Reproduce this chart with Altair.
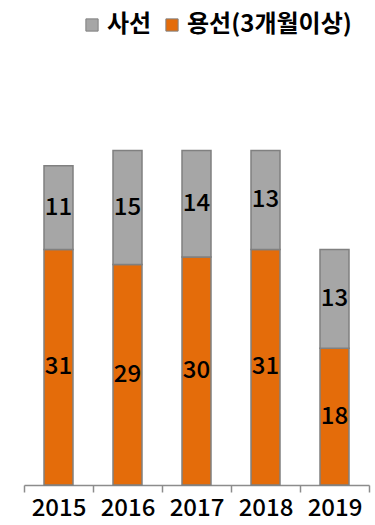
import altair as alt
import pandas as pd

years = ["2015", "2016", "2017", "2018", "2019"]
owned = [11, 15, 14, 13, 13]          # 사선
chartered = [31, 29, 30, 31, 18]      # 용선(3개월이상)

series = ["사선", "용선(3개월이상)"]
colors = ["#A6A6A6", "#E46C0A"]

rows = []
for y, o, c in zip(years, owned, chartered):
    rows.append({"year": y, "type": series[1], "value": c, "order": 0})
    rows.append({"year": y, "type": series[0], "value": o, "order": 1})
df = pd.DataFrame(rows)

FONT = "Noto Sans CJK KR"
y_scale = alt.Scale(domain=[0, 50])

base = alt.Chart(df).encode(
    x=alt.X(
        "year:N",
        title=None,
        scale=alt.Scale(paddingInner=0, paddingOuter=0),
        axis=alt.Axis(
            grid=False,
            labelAngle=0,
            labelFontSize=24,
            labelColor="#000000",
            labelFont=FONT,
            labelFontWeight=500,
            labelPadding=4,
            tickBand="extent",
            tickSize=7,
            tickColor="#8C8C8C",
            domainColor="#8C8C8C",
            domainWidth=1.5,
            tickWidth=1.5,
        ),
    ),
)

bars = base.mark_bar(size=29, stroke="#808080", strokeWidth=1.5).encode(
    y=alt.Y("value:Q", stack="zero", axis=None, scale=y_scale),
    color=alt.Color(
        "type:N",
        scale=alt.Scale(domain=series, range=colors),
        legend=alt.Legend(
            title=None,
            orient="none",
            direction="horizontal",
            legendX=56,
            legendY=-92,
            symbolType="square",
            symbolSize=150,
            symbolStrokeColor="#808080",
            symbolStrokeWidth=1,
            labelFontSize=24,
            labelFontWeight="bold",
            labelFont=FONT,
            labelColor="#000000",
            labelLimit=400,
            columnPadding=8,
            labelOffset=3,
        ),
    ),
    order=alt.Order("order:Q"),
)

labels = base.mark_text(fontSize=24, font=FONT, fontWeight=500, color="#000000").encode(
    y=alt.Y("mid:Q", scale=y_scale, axis=None),
    text=alt.Text("value:Q"),
).transform_stack(
    stack="value", groupby=["year"], as_=["v0", "v1"], sort=[alt.SortField("order")]
).transform_calculate(mid="(datum.v0 + datum.v1) / 2")

chart = (
    alt.layer(bars, labels)
    .properties(
        width=345,
        height=380,
        padding={"left": 24, "top": 105, "right": 6, "bottom": 40},
        autosize=alt.AutoSizeParams(type="none"),
        view=alt.ViewBackground(stroke=None, strokeWidth=0, fill=None),
    )
    .configure_axis(grid=False)
    .configure(background="#FFFFFF")
)

chart.save("out.html", embed_options={"renderer": "svg", "actions": False})
